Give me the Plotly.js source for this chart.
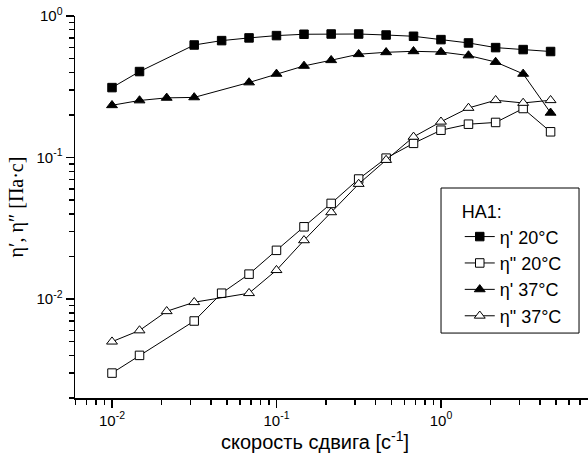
<!DOCTYPE html>
<html>
<head>
<meta charset="utf-8">
<script src="https://cdn.plot.ly/plotly-3.0.1.min.js"></script>
<style>html,body{margin:0;padding:0;background:#fff;}#chart{width:588px;height:454px;}</style>
</head>
<body>
<div id="chart"></div>
<script>
// shear rates (1/s)
const xAll = [0.01, 0.0147, 0.0316, 0.0464, 0.0681, 0.1, 0.147, 0.215, 0.316, 0.464, 0.681, 1.0, 1.47, 2.15, 3.16, 4.64];
const xTri = [0.01, 0.0147, 0.0215, 0.0316, 0.0681, 0.1, 0.147, 0.215, 0.316, 0.464, 0.681, 1.0, 1.47, 2.15, 3.16, 4.64];

const eta1_20 = [0.312, 0.405, 0.624, 0.67, 0.70, 0.727, 0.743, 0.746, 0.746, 0.734, 0.719, 0.681, 0.645, 0.598, 0.579, 0.561];
const eta2_20 = [0.0030, 0.0040, 0.0070, 0.0110, 0.0150, 0.0221, 0.0324, 0.0474, 0.0705, 0.099, 0.126, 0.156, 0.172, 0.177, 0.222, 0.152];
const eta1_37 = [0.234, 0.253, 0.264, 0.266, 0.339, 0.390, 0.444, 0.487, 0.537, 0.554, 0.563, 0.557, 0.526, 0.473, 0.390, 0.207];
const eta2_37 = [0.0050, 0.0060, 0.0082, 0.0095, 0.0110, 0.0160, 0.0260, 0.0410, 0.0650, 0.096, 0.140, 0.179, 0.224, 0.254, 0.243, 0.254];

const names = ["η' 20°C", 'η" 20°C', "η' 37°C", 'η" 37°C'];

const xTickVals = [0.01, 0.1, 1];
const xTickText = ['10<sup>-2</sup>', '10<sup>-1</sup>', '10<sup>0</sup>'];
const yTickVals = [0.01, 0.1, 1];
const yTickText = ['10<sup>-2</sup>', '10<sup>-1</sup>', '10<sup>0</sup>'];

function tr(x, y, name, symbol, fill, size, grp) {
  return {
    x: x, y: y, name: name, type: 'scatter', mode: 'lines+markers', legendgroup: grp,
    line: {color: '#000', width: 1},
    marker: {symbol: symbol, size: size, color: fill, line: {color: '#000', width: 1}}
  };
}

const data = [
  tr(xAll, eta1_20, names[0], 'square', '#000', 8.5, 'a'),
  tr(xAll, eta2_20, names[1], 'square', '#fff', 8.5, 'b'),
  tr(xTri, eta1_37, names[2], 'triangle-up', '#000', 9.5, 'c'),
  tr(xTri, eta2_37, names[3], 'triangle-up', '#fff', 9.5, 'd')
];

const axisCommon = {
  type: 'log', showgrid: false, zeroline: false,
  showline: true, linecolor: '#000', linewidth: 1.5,
  ticks: 'outside', ticklen: 8, tickwidth: 1.5, tickcolor: '#000',
  tickmode: 'array', tickfont: {size: 15},
  minor: {ticks: 'outside', ticklen: 5, tickwidth: 1.5, tickcolor: '#000', dtick: 'D1'}
};

const layout = {
  width: 588, height: 454,
  margin: {l: 75, r: 0, t: 16, b: 56},
  paper_bgcolor: '#fff', plot_bgcolor: '#fff',
  font: {family: 'Liberation Sans, Arial, sans-serif', color: '#000', size: 14},
  showlegend: true,
  xaxis: Object.assign({}, axisCommon, {
    range: [-2.225, 0.894],
    tickvals: xTickVals, ticktext: xTickText
  }),
  yaxis: Object.assign({}, axisCommon, {
    range: [Math.log10(0.002), 0],
    tickvals: yTickVals, ticktext: yTickText,
    title: {text: 'η′, η″ [Па·с]', font: {size: 20, family: 'Liberation Serif, Times New Roman, serif'}, standoff: 7}
  }),
  annotations: [{
    text: 'скорость сдвига [с<sup>-1</sup>]', xref: 'paper', yref: 'paper',
    x: 0.468, y: -0.112, xanchor: 'center', yanchor: 'middle',
    showarrow: false, font: {size: 20}
  }],
  shapes: [{
    type: 'rect', xref: 'paper', yref: 'paper',
    x0: 0.7135, x1: 0.9825, y0: 0.170, y1: 0.5497,
    line: {color: '#000', width: 1}, fillcolor: '#fff', layer: 'above'
  }],
  legend: {
    x: 0.75, y: 0.5315, xanchor: 'left', yanchor: 'top',
    bgcolor: 'rgba(0,0,0,0)', borderwidth: 0,
    font: {size: 18},
    title: {text: 'HA1:', font: {size: 18}},
    tracegroupgap: 0
  }
};

Plotly.newPlot('chart', data, layout, {displayModeBar: false, staticPlot: true});
</script>
</body>
</html>
